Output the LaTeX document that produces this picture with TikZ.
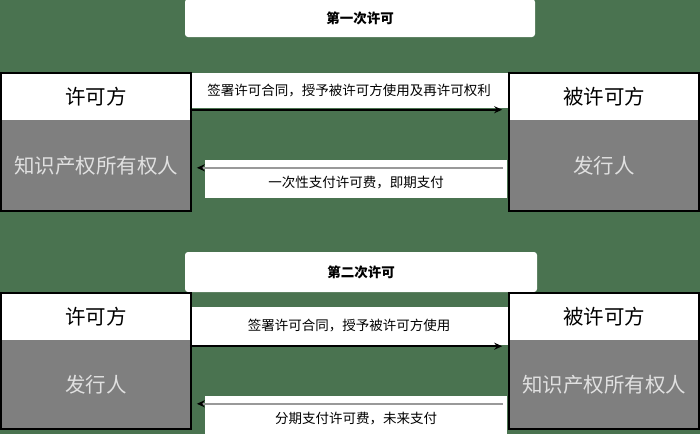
\documentclass[tikz,border=0pt]{standalone}
\usepackage{fontspec}
\newfontfamily\cjk{Noto Sans CJK SC}
\usetikzlibrary{arrows.meta}
\definecolor{bggreen}{HTML}{4A7350}
\definecolor{boxgrey}{HTML}{7F7F7F}

\begin{document}
\begin{tikzpicture}[x=1pt, y=-1pt,
	title/.style={fill=white, rounded corners=3pt, minimum width=350pt, minimum height=38pt, inner sep=0pt, font=\cjk\fontsize{13.5}{16}\selectfont\bfseries},
	head/.style={fill=white, minimum width=190pt, minimum height=47pt, inner sep=0pt, font=\cjk\fontsize{20.5}{24}\selectfont},
	body/.style={fill=boxgrey, text=white!88!black, minimum width=190pt, minimum height=91pt, inner sep=0pt, font=\cjk\fontsize{20.5}{24}\selectfont},
	band/.style={fill=white, minimum width=318pt, minimum height=35pt, inner sep=0pt, font=\cjk\fontsize{13.5}{16}\selectfont},
	pay/.style={fill=white, minimum width=302pt, minimum height=38pt, inner sep=0pt, text height=18pt, text depth=2pt, font=\cjk\fontsize{13.5}{16}\selectfont},
	fwd/.style={-{Stealth[length=8pt, width=7pt]}, line width=2pt, black},
	back/.style={-{Stealth[length=8pt, width=7pt, black]}, line width=1.5pt, black!40},
	frame/.style={draw=black, line width=2pt}]
	\useasboundingbox (0,0) rectangle (700,434);
	\fill[bggreen] (0,0) rectangle (700,434);

	% first licence
	\node[title] (t1) at (360,18) {第一次许可};
	\node[band] (s1) at (349,90.5) {签署许可合同，授予被许可方使用及再许可权利};
	\node[pay] (p1) at (356,179) {一次性支付许可费，即期支付};
	\node[head] (h1l) at (96,96.5) {许可方};
	\node[body] (b1l) at (96,165.5) {知识产权所有权人};
	\node[head] (h1r) at (604,96.5) {被许可方};
	\node[body] (b1r) at (604,165.5) {发行人};
	\draw[frame] (h1l.north west) rectangle (b1l.south east);
	\draw[frame] (h1r.north west) rectangle (b1r.south east);
	\draw[fwd] ([yshift=-1.5pt]s1.south west) -- ([xshift=-6pt, yshift=-1.5pt]s1.south east);
	\draw[back] ([xshift=-4pt, yshift=-8pt]p1.north east) -- ([xshift=-8pt, yshift=-8pt]p1.north west);

	% second licence
	\node[title, minimum width=352pt, minimum height=40pt] (t2) at (361,272) {第二次许可};
	\node[band, minimum height=38pt] (s2) at (349,326) {签署许可合同，授予被许可方使用};
	\node[pay] (p2) at (356,415) {分期支付许可费，未来支付};
	\node[head] (h2l) at (96,316.5) {许可方};
	\node[body, minimum height=89pt] (b2l) at (96,384.5) {发行人};
	\node[head] (h2r) at (604,316.5) {被许可方};
	\node[body, minimum height=89pt] (b2r) at (604,384.5) {知识产权所有权人};
	\draw[frame] (h2l.north west) rectangle (b2l.south east);
	\draw[frame] (h2r.north west) rectangle (b2r.south east);
	\draw[fwd] ([yshift=-1pt]s2.south west) -- ([xshift=-6pt, yshift=-1pt]s2.south east);
	\draw[back] ([xshift=-4pt, yshift=-8pt]p2.north east) -- ([xshift=-8pt, yshift=-8pt]p2.north west);
\end{tikzpicture}
\end{document}
